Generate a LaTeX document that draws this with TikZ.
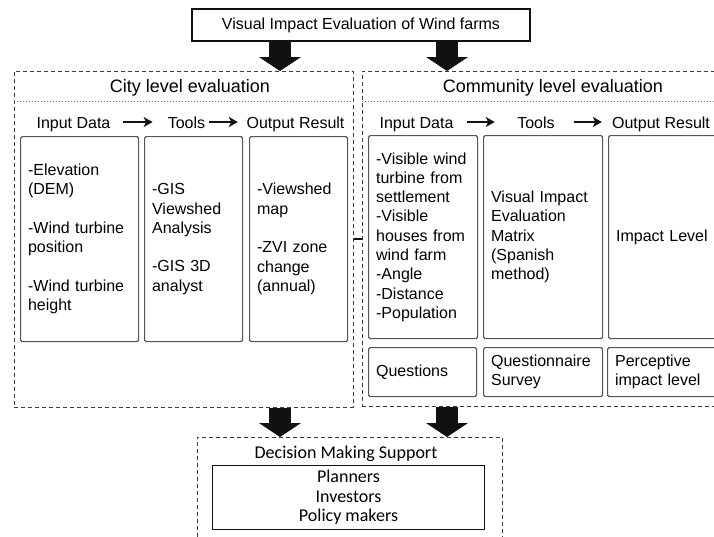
\documentclass[tikz,border=0pt]{standalone}
\usepackage{fontspec}
\setmainfont{Liberation Sans}
\newfontfamily\calfont{Carlito}
\usetikzlibrary{arrows.meta,positioning,calc}
\definecolor{ink}{HTML}{111111}
\definecolor{cellgray}{HTML}{555555}
\definecolor{dashgray}{HTML}{3A3A3A}
\definecolor{dotgray}{HTML}{7A7A7A}
\tikzset{
  titlebox/.style={draw=ink,line width=1.1pt,minimum width=338pt,minimum height=32pt,
    font=\fontsize{16}{19}\selectfont,inner sep=0pt},
  group/.style={draw=dashgray,line width=0.9pt,dash pattern=on 4pt off 3pt,anchor=north west,inner sep=0pt},
  sep/.style={draw=dotgray,line width=0.8pt,dash pattern=on 0.9pt off 2.1pt},
  head/.style={font=\fontsize{18}{21}\selectfont,inner sep=0pt,anchor=base},
  colhead/.style={font=\fontsize{16}{19}\selectfont,inner sep=0pt,anchor=base},
  cell/.style={draw=cellgray,line width=1.2pt,rounded corners=1.5pt,anchor=north west,align=left,
    inner xsep=7.5pt,inner ysep=0pt,font=\fontsize{16}{19.3}\selectfont},
  harr/.style={-{Stealth[length=9pt,width=10pt,inset=2.5pt]},line width=2.2pt,draw=ink},
  bigarr/.style={line width=22pt,draw=ink,-{Triangle[length=14pt,width=42pt,line width=0pt]}},
  link/.style={draw=ink,line width=1.5pt},
  calbox/.style={font=\calfont\fontsize{18}{19.5}\selectfont},
}
\begin{document}
\begin{tikzpicture}[x=1pt,y=-1pt]
  \useasboundingbox (0,0) rectangle (714,536);
  \clip (0,0) rectangle (714,536);
  \coordinate (leftcol) at (280,0);
  \coordinate (rightcol) at (447,0);
  \coordinate (sepy) at (0,101);
  \coordinate (linky) at (0,239);
  \coordinate (arry) at (0,122);
  % title
  \node[titlebox] (title) at (361,25) {Visual Impact Evaluation of Wind farms};
  % the two evaluation levels
  \node[group,minimum width=339pt,minimum height=336pt] (city) at (14,71) {};
  \node[group,minimum width=380pt,minimum height=335pt] (community) at (362,71) {};
  \node[head] (cityhead) at (190,92.5) {City level evaluation};
  \node[head] (commhead) at (553,92.5) {Community level evaluation};
  \draw[sep] (city.west |- sepy) -- (city.east |- sepy);
  \draw[sep] (community.west |- sepy) -- (community.east |- sepy);
  % column heads
  \node[colhead] (cityin) at (73.5,128) {Input Data};
  \node[colhead] (citytools) at (186.5,128) {Tools};
  \node[colhead] (cityout) at (295.5,128) {Output Result};
  \node[colhead] (commin) at (416.5,128) {Input Data};
  \node[colhead] (commtools) at (536,128) {Tools};
  \node[colhead] (commout) at (661,128) {Output Result};
  \draw[harr,shorten <=12.6pt,shorten >=15pt] (cityin.east |- arry) -- (citytools.west |- arry);
  \draw[harr,shorten <=4pt,shorten >=8.6pt] (citytools.east |- arry) -- (cityout.west |- arry);
  \draw[harr,shorten <=13.6pt,shorten >=22.4pt] (commin.east |- arry) -- (commtools.west |- arry);
  \draw[harr,shorten <=19.4pt,shorten >=10pt] (commtools.east |- arry) -- (commout.west |- arry);
  % city cells
  \node[cell,text width=103pt,minimum height=205pt] (cityc1) at (20,136)
    {-Elevation\\(DEM)\\[19.3pt]-Wind turbine\\position\\[19.3pt]-Wind turbine\\height};
  \node[cell,text width=83pt,minimum height=205pt] (cityc2) at (144,136)
    {-GIS\\Viewshed\\Analysis\\[19.3pt]-GIS 3D\\analyst};
  \node[cell,text width=83pt,minimum height=205pt] (cityc3) at (249,136)
    {-Viewshed\\map\\[19.3pt]-ZVI zone\\change\\(annual)};
  % community cells
  \node[cell,text width=94pt,minimum height=203pt] (commc1) at (368,135)
    {-Visible wind\\turbine from\\settlement\\-Visible\\houses from\\wind farm\\-Angle\\-Distance\\-Population};
  \node[cell,text width=104pt,minimum height=203pt] (commc2) at (483,135)
    {Visual Impact\\Evaluation\\Matrix\\(Spanish\\method)};
  \node[cell,text width=105pt,minimum height=203pt] (commc3) at (608,135) {Impact Level};
  \node[cell,text width=93pt,minimum height=49pt] (commq1) at (368,347) {Questions};
  \node[cell,text width=104pt,minimum height=49pt] (commq2) at (483,347) {Questionnaire\\Survey};
  \node[cell,text width=105pt,minimum height=49pt] (commq3) at (607,347) {Perceptive\\impact level};
  \draw[link] (city.east |- linky) -- (community.west |- linky);
  % decision support
  \node[group,minimum width=305pt,minimum height=120pt] (decision) at (197,437) {};
  \node[calbox,inner sep=0pt,anchor=base] (dmhead) at (346,458.5) {Decision Making Support};
  \node[calbox,draw=ink,line width=1pt,minimum width=272pt,minimum height=64pt,anchor=north west,
    align=center,inner sep=0pt] (actors) at (212,465) {Planners\\Investors\\Policy makers};
  % block arrows
  \draw[bigarr] (title.south -| leftcol) -- (city.north -| leftcol);
  \draw[bigarr] (title.south -| rightcol) -- (community.north -| rightcol);
  \draw[bigarr] (city.south -| leftcol) -- (decision.north -| leftcol);
  \draw[bigarr] (community.south -| rightcol) -- (decision.north -| rightcol);
\end{tikzpicture}
\end{document}
